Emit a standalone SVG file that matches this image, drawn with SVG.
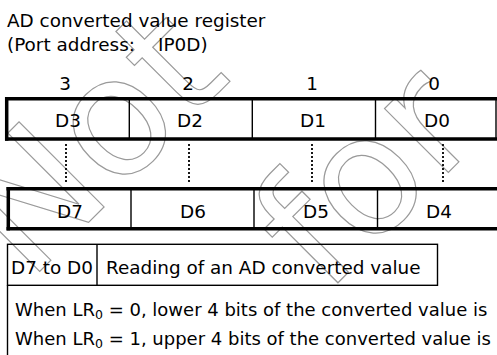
<svg xmlns="http://www.w3.org/2000/svg" width="497" height="355" viewBox="0 0 497 355">
<style>
text{font-family:"DejaVu Sans","Liberation Sans",sans-serif;font-size:18.4px;fill:#000}
.c{text-anchor:middle}
.b{font-size:18px}
.thick{stroke:#000;stroke-width:3.5;fill:none}
.thin{stroke:#000;stroke-width:1.4;fill:none}
.dot{stroke:#000;stroke-width:1.8;stroke-dasharray:2 2;fill:none}
.wm{font-family:"DejaVu Sans",sans-serif;font-size:165px;fill:none;stroke:#9a9a9a;stroke-width:1.2}
.sub{font-size:12.5px}
</style>
<rect width="497" height="355" fill="#fff"/>
<g id="watermark" transform="rotate(-45)">
<text class="wm" x="-180" y="220">Not</text>
<text class="wm" x="21" y="439">for</text>
</g>
<g id="title">
<text x="7" y="26.5">AD converted value register</text>
<text x="7" y="50.5">(Port address:</text>
<text x="158" y="50.5">IP0D)</text>
</g>
<g id="bitnums">
<text class="c" x="65" y="90">3</text>
<text class="c" x="188" y="90">2</text>
<text class="c" x="312" y="90">1</text>
<text class="c" x="434" y="90">0</text>
</g>
<g id="reg-low">
<line class="thick" x1="5" y1="98.7" x2="497" y2="98.7"/>
<line class="thick" x1="5" y1="139" x2="497" y2="139"/>
<line class="thick" x1="6.7" y1="97" x2="6.7" y2="140.7"/>
<line class="thin" x1="496" y1="98.7" x2="496" y2="139"/>
<line class="thin" x1="129.3" y1="98.7" x2="129.3" y2="139"/>
<line class="thin" x1="252.3" y1="98.7" x2="252.3" y2="139"/>
<line class="thin" x1="375.5" y1="98.7" x2="375.5" y2="139"/>
<text class="c" x="68" y="127">D3</text>
<text class="c" x="190" y="127">D2</text>
<text class="c" x="313" y="127">D1</text>
<text class="c" x="437" y="127">D0</text>
</g>
<g id="connectors">
<line class="dot" x1="66" y1="144" x2="66" y2="184"/>
<line class="dot" x1="189" y1="144" x2="189" y2="184"/>
<line class="dot" x1="312" y1="144" x2="312" y2="184"/>
<line class="dot" x1="443" y1="144" x2="443" y2="184"/>
</g>
<g id="reg-high">
<line class="thick" x1="6.5" y1="188.7" x2="497" y2="188.7"/>
<line class="thick" x1="6.5" y1="228.7" x2="497" y2="228.7"/>
<line class="thick" x1="8.3" y1="187" x2="8.3" y2="230.4"/>
<line class="thin" x1="131" y1="188.7" x2="131" y2="228.7"/>
<line class="thin" x1="254" y1="188.7" x2="254" y2="228.7"/>
<line class="thin" x1="377.5" y1="188.7" x2="377.5" y2="228.7"/>
<text class="c" x="70" y="217.5">D7</text>
<text class="c" x="193" y="217.5">D6</text>
<text class="c" x="316" y="217.5">D5</text>
<text class="c" x="439" y="217.5">D4</text>
</g>
<g id="table">
<rect class="thin" x="7.5" y="244.3" width="430" height="41"/>
<line class="thin" x1="97" y1="244.3" x2="97" y2="285.3"/>
<line class="thin" x1="7.5" y1="285.3" x2="7.5" y2="355"/>
<text x="11" y="274">D7 to D0</text>
<text x="106" y="274">Reading of an AD converted value</text>
<text class="b" x="15" y="316">When LR<tspan class="sub" dy="3">0</tspan><tspan dy="-3"> = 0, lower 4 bits of the converted value is</tspan></text>
<text class="b" x="15" y="345">When LR<tspan class="sub" dy="3">0</tspan><tspan dy="-3"> = 1, upper 4 bits of the converted value is</tspan></text>
</g>
</svg>
